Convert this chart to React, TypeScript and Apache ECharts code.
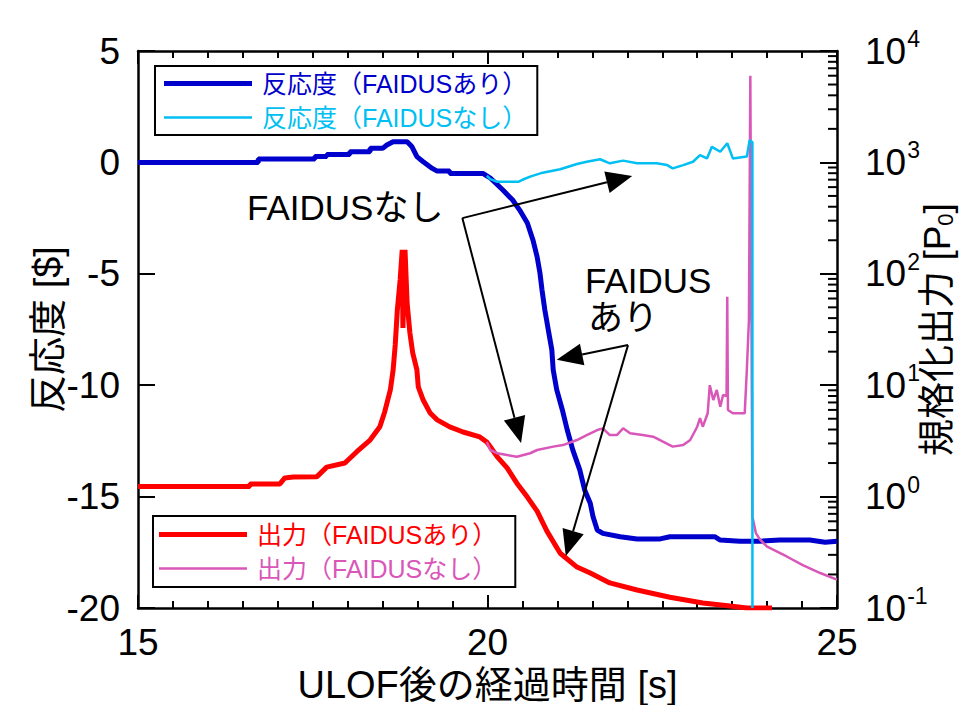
import React, { useEffect, useRef } from 'react';
import * as echarts from 'echarts';

// ---- data (time [s], value) ----
const reactivityWith: number[][] = [
  [15.0, 0], [16.72, 0], [16.72, 0.15], [17.53, 0.15], [17.53, 0.26], [17.70, 0.26], [17.70, 0.36],
  [18.03, 0.36], [18.03, 0.48], [18.32, 0.48], [18.32, 0.63], [18.50, 0.63], [18.56, 0.78], [18.65, 0.93],
  [18.85, 0.93], [18.92, 0.7], [18.99, 0.26], [19.08, 0.03], [19.21, -0.27], [19.28, -0.39], [19.46, -0.39],
  [19.46, -0.5], [19.94, -0.5], [19.99, -0.6], [20.04, -0.7], [20.22, -1.24], [20.36, -1.69], [20.46, -2.14],
  [20.57, -2.72], [20.65, -3.48], [20.71, -4.24], [20.75, -4.96], [20.78, -5.73], [20.82, -6.62], [20.87, -7.52],
  [20.92, -8.41], [20.94, -9.31], [20.99, -10.2], [21.07, -11.1], [21.14, -12.0], [21.22, -12.9], [21.32, -13.8],
  [21.39, -14.7], [21.47, -15.3], [21.51, -15.9], [21.57, -16.5], [21.65, -16.65], [21.90, -16.8], [22.14, -16.9],
  [22.47, -16.9], [22.61, -16.8], [23.25, -16.8], [23.33, -16.95], [23.61, -17.0], [23.90, -17.0], [24.18, -16.95],
  [24.61, -16.95], [24.83, -17.05], [25.0, -17.0]
];

const reactivityWithout: number[][] = [
  [19.99, -0.6], [20.04, -0.75], [20.14, -0.87], [20.44, -0.87], [20.50, -0.78], [20.61, -0.64], [20.79, -0.46],
  [21.04, -0.31], [21.28, -0.07], [21.42, 0.03], [21.61, 0.14], [21.75, -0.04], [21.94, 0.08], [22.14, -0.04],
  [22.42, -0.04], [22.57, -0.12], [22.65, -0.27], [22.80, -0.12], [22.94, 0.03], [23.04, 0.33], [23.14, 0.18],
  [23.21, 0.7], [23.33, 0.48], [23.43, 0.86], [23.51, 0.18], [23.71, 0.26], [23.75, 1.0], [23.79, 0.9], [23.79, -20]
];

const powerWith: number[][] = [
  [15.0, 1.23], [16.60, 1.23], [16.60, 1.30], [17.03, 1.30], [17.10, 1.47], [17.22, 1.50], [17.56, 1.51],
  [17.70, 1.84], [17.96, 2.0], [18.13, 2.53], [18.32, 3.22], [18.46, 4.24], [18.53, 5.78], [18.61, 9.06],
  [18.65, 13.7], [18.68, 23.0], [18.71, 47.3], [18.75, 87.9], [18.78, 164], [18.79, 32.6], [18.82, 164],
  [18.85, 54.7], [18.89, 29.4], [18.93, 19.5], [18.99, 13.7], [19.01, 9.64], [19.08, 7.36], [19.18, 5.62],
  [19.28, 4.88], [19.46, 4.22], [19.65, 3.80], [19.89, 3.43], [19.99, 3.09], [20.04, 2.80], [20.14, 2.27],
  [20.28, 1.81], [20.42, 1.32], [20.57, 0.99], [20.71, 0.74], [20.85, 0.49], [21.04, 0.31], [21.28, 0.233],
  [21.47, 0.206], [21.75, 0.168], [22.14, 0.145], [22.61, 0.125], [23.08, 0.111], [23.47, 0.104], [23.71, 0.1],
  [24.07, 0.1]
];

const powerWithout: number[][] = [
  [19.99, 3.09], [20.04, 2.62], [20.14, 2.45], [20.28, 2.36], [20.42, 2.28], [20.61, 2.45], [20.71, 2.62],
  [20.94, 2.81], [21.08, 2.90], [21.28, 3.22], [21.42, 3.57], [21.57, 3.96], [21.65, 4.10], [21.75, 3.57],
  [21.85, 3.57], [21.94, 4.10], [22.04, 3.70], [22.22, 3.57], [22.37, 3.45], [22.51, 3.11], [22.65, 2.81],
  [22.80, 2.90], [22.90, 3.22], [23.00, 4.24], [23.04, 5.05], [23.08, 4.24], [23.15, 5.60], [23.18, 10.0],
  [23.23, 7.36], [23.28, 9.06], [23.33, 6.41], [23.37, 8.17], [23.42, 8.0], [23.43, 62.2], [23.44, 5.98],
  [23.51, 5.60], [23.68, 5.60], [23.71, 13.7], [23.74, 38.5], [23.76, 6000], [23.79, 0.66], [23.84, 0.47],
  [23.90, 0.41], [24.00, 0.355], [24.28, 0.29], [24.51, 0.243], [24.76, 0.206], [25.0, 0.18]
];

// annotation arrows: [fromT, fromV, toT, toV] on the reactivity axis
const arrowsData: number[][] = [
  [19.64, -2.5, 22.07, -0.61],
  [19.64, -2.5, 20.48, -12.59],
  [22.01, -8.2, 20.99, -8.86],
  [22.01, -8.2, 21.12, -17.67]
];

// log-axis minor tick multipliers and decades
const minorMultipliers = [2, 3, 4, 5, 6, 7, 8, 9];
const decades = [-1, 0, 1, 2, 3];

const names = {
  rWith: '反応度（FAIDUSあり）',
  rWithout: '反応度（FAIDUSなし）',
  pWith: '出力（FAIDUSあり）',
  pWithout: '出力（FAIDUSなし）'
};

const colors = {
  blue: '#0000CC',
  cyan: '#00BFF3',
  red: '#FF0000',
  magenta: '#D957B8'
};

const LATIN = "'Liberation Sans', 'Noto Sans CJK JP', sans-serif";

export default function App() {
  const ref = useRef<HTMLDivElement>(null);

  useEffect(() => {
    if (!ref.current) return;
    const chart = echarts.init(ref.current, undefined, { renderer: 'svg' });

    const minorTicks: number[][] = [];
    decades.forEach((d) => minorMultipliers.forEach((m) => minorTicks.push([25, m * Math.pow(10, d)])));

    const axisLine = { show: true, onZero: false, lineStyle: { color: '#000', width: 2.5 } };
    const xTick = { show: true, inside: true, length: 13, lineStyle: { color: '#000', width: 2 } };
    const xMinor = { show: true, splitNumber: 10, length: 7, lineStyle: { color: '#000', width: 2 } };

    const thickIcon = 'path://M0,0H88V5H0Z';
    const thinIcon = 'path://M0,0H88V2.5H0Z';

    const legendCommon = {
      orient: 'vertical',
      itemGap: 9,
      itemWidth: 88,
      itemHeight: 22,
      selectedMode: false,
      borderColor: '#000',
      borderWidth: 2,
      backgroundColor: '#fff',
      textStyle: { fontSize: 25, fontFamily: LATIN, padding: [0, 0, 0, 5] }
    };

    const option: any = {
      animation: false,
      backgroundColor: '#fff',
      grid: { left: 138, right: 126, top: 51, bottom: 97, outerBoundsMode: 'none', containLabel: false },
      legend: [
        {
          ...legendCommon,
          left: 155,
          top: 66,
          padding: [5, 10, 5, 9],
          data: [
            { name: names.rWith, icon: thickIcon, textStyle: { color: colors.blue } },
            { name: names.rWithout, icon: thinIcon, textStyle: { color: colors.cyan } }
          ]
        },
        {
          ...legendCommon,
          left: 153,
          top: 516,
          padding: [6, 18, 6, 6],
          data: [
            { name: names.pWith, icon: thickIcon, textStyle: { color: colors.red } },
            { name: names.pWithout, icon: thinIcon, textStyle: { color: colors.magenta } }
          ]
        }
      ],
      xAxis: [
        {
          type: 'value', min: 15, max: 25, interval: 5, position: 'bottom',
          axisLine, axisTick: xTick, minorTick: xMinor, splitLine: { show: false },
          axisLabel: { margin: 16, fontSize: 37, color: '#000', fontFamily: LATIN },
          name: 'ULOF後の経過時間 [s]', nameLocation: 'middle', nameGap: 54,
          nameTextStyle: { fontSize: 38, color: '#000', fontFamily: LATIN }
        },
        {
          type: 'value', min: 15, max: 25, interval: 5, position: 'top',
          axisLine, axisTick: xTick, minorTick: xMinor, splitLine: { show: false },
          axisLabel: { show: false }
        }
      ],
      yAxis: [
        {
          type: 'value', min: -20, max: 5, interval: 5, position: 'left',
          axisLine, axisTick: { show: true, inside: true, length: 17, lineStyle: { color: '#000', width: 2 } },
          splitLine: { show: false },
          axisLabel: { margin: 18, fontSize: 37, color: '#000', fontFamily: LATIN },
          name: '反応度 [$]', nameLocation: 'middle', nameGap: 71, nameRotate: 90, nameMoveOverlap: false,
          nameTextStyle: { fontSize: 38, color: '#000', fontFamily: LATIN }
        },
        {
          type: 'log', logBase: 10, min: 0.1, max: 10000, position: 'right',
          axisLine, axisTick: { show: true, inside: true, length: 17, lineStyle: { color: '#000', width: 2 } },
          splitLine: { show: false },
          axisLabel: {
            margin: 28,
            formatter: (v: number) => `{b|10}{s|${Math.round(Math.log10(v))}}`,
            rich: {
              b: { fontSize: 37, color: '#000', fontFamily: LATIN },
              s: { fontSize: 23, color: '#000', fontFamily: LATIN, padding: [0, 0, 24, 1] }
            }
          },
          name: '規格化出力 [P{sub|0}]', nameLocation: 'middle', nameGap: 81, nameRotate: 90, nameMoveOverlap: false,
          nameTextStyle: {
            fontSize: 37, color: '#000', fontFamily: LATIN,
            rich: { sub: { fontSize: 22, color: '#000', fontFamily: LATIN, padding: [16, 0, 0, 0] } }
          }
        }
      ],
      series: [
        {
          name: names.rWith, type: 'line', xAxisIndex: 0, yAxisIndex: 0, data: reactivityWith,
          showSymbol: false, symbol: 'none', color: colors.blue, lineStyle: { width: 5, color: colors.blue }
        },
        {
          name: names.pWith, type: 'line', xAxisIndex: 0, yAxisIndex: 1, data: powerWith,
          showSymbol: false, symbol: 'none', color: colors.red, lineStyle: { width: 5, color: colors.red }
        },
        {
          name: names.pWithout, type: 'line', xAxisIndex: 0, yAxisIndex: 1, data: powerWithout,
          showSymbol: false, symbol: 'none', color: colors.magenta, lineStyle: { width: 2.5, color: colors.magenta }
        },
        {
          name: names.rWithout, type: 'line', xAxisIndex: 0, yAxisIndex: 0, data: reactivityWithout,
          showSymbol: false, symbol: 'none', color: colors.cyan, lineStyle: { width: 2.5, color: colors.cyan }
        },
        {
          name: 'minorTicks', type: 'custom', xAxisIndex: 0, yAxisIndex: 1, data: minorTicks, silent: true,
          clip: false,
          renderItem: (_p: any, api: any) => {
            const p = api.coord([api.value(0), api.value(1)]);
            return {
              type: 'line',
              shape: { x1: p[0] - 9, y1: p[1], x2: p[0], y2: p[1] },
              style: { stroke: '#000', lineWidth: 2 }
            };
          }
        },
        {
          name: 'arrows', type: 'custom', xAxisIndex: 0, yAxisIndex: 0, data: arrowsData, silent: true,
          clip: false, z: 10,
          encode: { x: [0, 2], y: [1, 3] },
          renderItem: (_p: any, api: any) => {
            const p1 = api.coord([api.value(0), api.value(1)]);
            const p2 = api.coord([api.value(2), api.value(3)]);
            const dx = p2[0] - p1[0];
            const dy = p2[1] - p1[1];
            const len = Math.hypot(dx, dy);
            const ux = dx / len;
            const uy = dy / len;
            const hl = 26;
            const hw = 11;
            const bx = p2[0] - ux * hl;
            const by = p2[1] - uy * hl;
            return {
              type: 'group',
              children: [
                { type: 'line', shape: { x1: p1[0], y1: p1[1], x2: bx, y2: by }, style: { stroke: '#000', lineWidth: 2 } },
                {
                  type: 'polygon',
                  shape: { points: [[p2[0], p2[1]], [bx - uy * hw, by + ux * hw], [bx + uy * hw, by - ux * hw]] },
                  style: { fill: '#000' }
                }
              ]
            };
          }
        }
      ],
      graphic: [
        {
          type: 'text', left: 247, top: 190, z: 20,
          style: { text: 'FAIDUSなし', fontSize: 35, fontFamily: LATIN, fill: '#000' }
        },
        {
          type: 'text', left: 585, top: 263, z: 20,
          style: { text: 'FAIDUS', fontSize: 35, fontFamily: LATIN, fill: '#000' }
        },
        {
          type: 'text', left: 588, top: 300, z: 20,
          style: { text: 'あり', fontSize: 35, fontFamily: LATIN, fill: '#000' }
        }
      ]
    };

    chart.setOption(option);
    return () => chart.dispose();
  }, []);

  return (
    <div
      ref={ref}
      style={{ position: 'fixed', left: 0, top: 0, width: 963, height: 705, background: '#fff' }}
    />
  );
}
